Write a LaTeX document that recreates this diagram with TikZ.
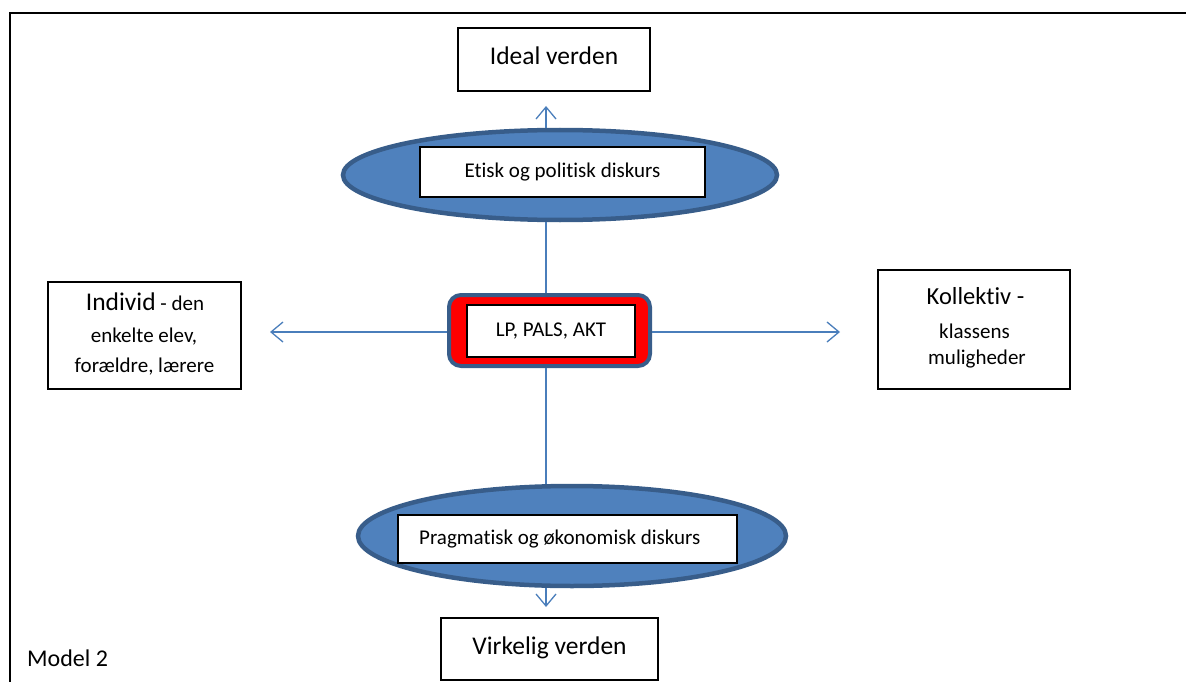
\documentclass[tikz,border=0pt]{standalone}
\usepackage{fontspec}
\setmainfont{Carlito}[Ligatures=NoCommon]
\usetikzlibrary{shapes.geometric,arrows.meta}
\definecolor{ellfill}{HTML}{4F81BD}
\definecolor{ellline}{HTML}{385D8A}
\definecolor{arrowblue}{HTML}{4A7EBB}
\tikzset{
  plainbox/.style={draw=black, line width=1.6pt, fill=white, inner sep=0pt},
  disc/.style={ellipse, draw=ellline, fill=ellfill, line width=4.5pt, inner sep=0pt},
  conn/.style={draw=arrowblue, line width=1.3pt},
  arr/.style={conn, -{Straight Barb[length=12pt,width=20pt,line width=1.3pt]}},
  big/.style={font=\fontsize{25.5}{30}\selectfont, text height=19pt, text depth=8pt},
  mid/.style={font=\fontsize{21}{25}\selectfont},
  linetext/.style={anchor=base, inner sep=0pt},
}
\begin{document}
\begin{tikzpicture}[x=1pt,y=-1pt]
\useasboundingbox (0,0) rectangle (1186,682);
% frame
\draw[line width=2.2pt] (10,682) -- (10,13) -- (1186,13);
% coordinates for arrow tips
\coordinate (upTip) at (546,106);
\coordinate (downTip) at (546,607);
\coordinate (leftTip) at (270,332);
\coordinate (rightTip) at (840,332);
% ellipses
\node[disc, minimum width=434pt, minimum height=90pt] (ellTop) at (560,175) {};
\node[disc, minimum width=428pt, minimum height=100pt] (ellBot) at (572,536) {};
% center box
\node[draw=ellline, fill=red, line width=4pt, rounded corners=12pt, minimum width=201pt, minimum height=71pt, inner sep=0pt] (center) at (549.5,330.5) {};
\node[plainbox, minimum width=168pt, minimum height=52pt, mid] (centerIn) at (551,331) {LP, PALS, AKT};
% connectors
\draw[conn] (ellTop.south -| upTip) -- (center.north -| upTip);
\draw[conn] (center.south -| upTip) -- (ellBot.north -| upTip);
\draw[arr] (ellTop.north -| upTip) -- (upTip);
\draw[arr] (ellBot.south -| downTip) -- (downTip);
\draw[arr] (center.west |- leftTip) -- (leftTip);
\draw[arr] (center.east |- rightTip) -- (rightTip);
% boxes
\node[plainbox, minimum width=192pt, minimum height=63pt, big] (ideal) at (554,59.5) {Ideal verden};
\node[plainbox, minimum width=285pt, minimum height=50pt, mid] (etisk) at (562.5,172) {Etisk og politisk diskurs};
\node[plainbox, minimum width=339pt, minimum height=48pt] (prag) at (567.5,539) {};
\node[mid, anchor=west, inner sep=0pt] (pragText) at (419,539) {Pragmatisk og økonomisk diskurs};
\node[plainbox, minimum width=217pt, minimum height=62pt, big] (virk) at (549.5,649) {Virkelig verden};
% Individ box
\node[plainbox, minimum width=193pt, minimum height=107pt] (ind) at (144.5,335.5) {};
\node[linetext, font=\fontsize{21}{25}\selectfont] (ind1) at (145,310) {{\fontsize{25.5}{29}\selectfont Individ} - den};
\node[linetext, font=\fontsize{21}{25}\selectfont] (ind2) at (144,342) {enkelte elev,};
\node[linetext, font=\fontsize{21}{25}\selectfont] (ind3) at (144.5,372) {forældre, lærere};
% Kollektiv box
\node[plainbox, minimum width=192pt, minimum height=119pt] (kol) at (974,329.5) {};
\node[linetext, font=\fontsize{24.5}{28}\selectfont] (kol1) at (975.5,304) {Kollektiv -};
\node[linetext, font=\fontsize{21}{24}\selectfont] (kol2) at (974.5,338) {klassens};
\node[linetext, font=\fontsize{21}{24}\selectfont] (kol3) at (977,364) {muligheder};
\node[anchor=base west, inner sep=0pt, font=\fontsize{24}{28}\selectfont] (model) at (27,666) {Model 2};
\end{tikzpicture}
\end{document}
